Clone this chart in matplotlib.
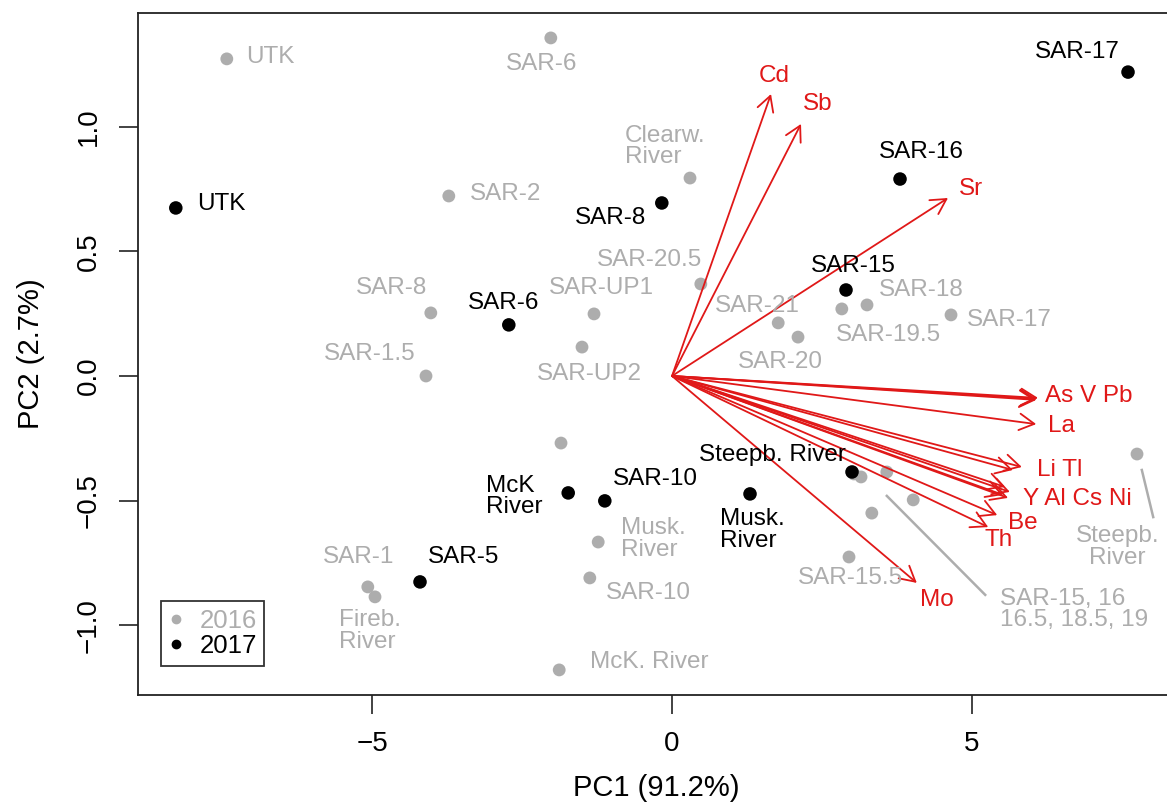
import matplotlib
matplotlib.use("Agg")
import matplotlib.pyplot as plt  # noqa: E402
from matplotlib.lines import Line2D  # noqa: E402

plt.rcParams["font.family"] = ["Liberation Sans", "DejaVu Sans"]

GRAY = "#ADADAD"
RED = "#E01818"

# 2016 sample scores (PC1, PC2)
s16_x = [-7.42, -2.02, 0.30, -3.72, -4.02, -1.30, 0.48, -1.50, -4.10, 1.77,
         2.10, 2.83, 3.25, 4.65, -1.85, -1.23, -1.37, -1.88, -5.07, -4.95,
         3.03, 3.15, 3.58, 4.02, 3.33, 2.95, 7.75]
s16_y = [1.272, 1.356, 0.794, 0.722, 0.253, 0.249, 0.369, 0.116, 0.0, 0.213,
         0.156, 0.269, 0.285, 0.245, -0.269, -0.666, -0.810, -1.179, -0.846, -0.886,
         -0.393, -0.405, -0.385, -0.497, -0.550, -0.726, -0.313]

# 2017 sample scores
s17_x = [-8.27, 7.60, 3.80, -0.17, 2.90, -2.72, -1.73, -1.12, 1.30, 3.00, -4.20]
s17_y = [0.674, 1.219, 0.790, 0.694, 0.345, 0.205, -0.469, -0.501, -0.473, -0.385, -0.826]

# labels: text, x, y, horizontal alignment
lab16 = [
    ("UTK", -7.10, 1.280, "left"),
    ("SAR-6", -2.18, 1.251, "center"),
    ("Clearw.\nRiver", -0.78, 0.922, "left"),
    ("SAR-2", -3.37, 0.730, "left"),
    ("SAR-8", -4.68, 0.353, "center"),
    ("SAR-UP1", -1.17, 0.353, "center"),
    ("SAR-20.5", -0.38, 0.465, "center"),
    ("SAR-1.5", -5.03, 0.088, "center"),
    ("SAR-UP2", -1.38, 0.008, "center"),
    ("SAR-21", 1.42, 0.281, "center"),
    ("SAR-20", 1.80, 0.056, "center"),
    ("SAR-18", 3.45, 0.345, "left"),
    ("SAR-19.5", 3.60, 0.164, "center"),
    ("SAR-17", 4.92, 0.225, "left"),
    ("Musk.\nRiver", -0.85, -0.654, "left"),
    ("SAR-10", -0.40, -0.870, "center"),
    ("McK. River", -0.38, -1.147, "center"),
    ("SAR-1", -5.23, -0.726, "center"),
    ("Fireb.\nRiver", -5.55, -1.023, "left"),
    ("SAR-15.5", 2.97, -0.810, "center"),
    ("Steepb.\nRiver", 7.42, -0.686, "center"),
    ("SAR-15, 16\n16.5, 18.5, 19", 5.47, -0.935, "left"),
]
lab17 = [
    ("UTK", -7.92, 0.690, "left"),
    ("SAR-17", 6.75, 1.300, "center"),
    ("SAR-16", 4.15, 0.899, "center"),
    ("SAR-8", -1.02, 0.634, "center"),
    ("SAR-15", 3.03, 0.441, "center"),
    ("SAR-6", -2.80, 0.293, "center"),
    ("McK\nRiver", -3.10, -0.485, "left"),
    ("SAR-10", -0.27, -0.413, "center"),
    ("Steepb. River", 1.67, -0.317, "center"),
    ("Musk.\nRiver", 0.80, -0.618, "left"),
    ("SAR-5", -3.48, -0.726, "center"),
]

# leader lines for crowded 2016 labels
leaders = [((3.58, 5.22), (-0.481, -0.878)),
           ((7.83, 8.02), (-0.377, -0.566))]

# variable loadings (arrow tips)
var_names = ["Cd", "Sb", "Sr", "As", "V", "Pb", "La", "Li", "Tl",
             "Y", "Al", "Cs", "Ni", "Be", "Th", "Mo"]
var_x = [1.65, 2.15, 4.60, 6.10, 6.08, 6.07, 6.07, 5.83, 5.68,
         5.55, 5.63, 5.52, 5.60, 5.42, 5.27, 4.08]
var_y = [1.131, 1.011, 0.714, -0.088, -0.092, -0.096, -0.193, -0.365, -0.377,
         -0.445, -0.465, -0.477, -0.489, -0.558, -0.606, -0.830]
var_lab = [
    ("Cd", 1.70, 1.203, "center"),
    ("Sb", 2.43, 1.091, "center"),
    ("Sr", 4.98, 0.750, "center"),
    ("As V Pb", 6.22, -0.080, "left"),
    ("La", 6.27, -0.200, "left"),
    ("Li Tl", 6.08, -0.377, "left"),
    ("Y Al Cs Ni", 5.85, -0.493, "left"),
    ("Be", 5.60, -0.590, "left"),
    ("Th", 5.20, -0.658, "left"),
    ("Mo", 4.42, -0.898, "center"),
]

fig = plt.figure(figsize=(11.67, 8.10), dpi=100)
ax = fig.add_axes([138 / 1167, 1 - 695 / 810, 1037 / 1167, 682 / 810])

ax.scatter(s16_x, s16_y, s=85, color=GRAY, edgecolors="none", zorder=2)
ax.scatter(s17_x, s17_y, s=95, color="black", edgecolors="none", zorder=3)

for xs, ys in leaders:
    ax.plot(xs, ys, color=GRAY, lw=1.8, zorder=2)

for name, x, y in zip(var_names, var_x, var_y):
    ax.annotate("", xy=(x, y), xytext=(0, 0),
                arrowprops=dict(arrowstyle="->,head_length=0.6,head_width=0.33",
                                mutation_scale=18, color=RED, lw=1.3,
                                shrinkA=0, shrinkB=0), zorder=4)

txt = dict(fontsize=17.5, va="center", linespacing=0.95, zorder=5)
for t, x, y, ha in lab16:
    ax.text(x, y, t, color=GRAY, ha=ha, **txt)
for t, x, y, ha in lab17:
    ax.text(x, y, t, color="black", ha=ha, **txt)
for t, x, y, ha in var_lab:
    ax.text(x, y, t, color=RED, ha=ha, **txt)

ax.set_xlim(-8.9, 8.383)
ax.set_ylim(-1.2796, 1.456)
ax.set_xticks([-5, 0, 5])
ax.set_yticks([-1.0, -0.5, 0.0, 0.5, 1.0])
ax.set_yticklabels(["\u22121.0", "\u22120.5", "0.0", "0.5", "1.0"],
                   rotation=90, va="center")
ax.tick_params(axis="both", length=14, width=1.2, labelsize=20, color="#222222")
ax.tick_params(axis="x", pad=12)
ax.tick_params(axis="y", pad=12)
for sp in ax.spines.values():
    sp.set_linewidth(1.3)
    sp.set_color("#222222")

ax.set_xlabel("PC1 (91.2%)", fontsize=21, labelpad=12)
ax.set_ylabel("PC2 (2.7%)", fontsize=21, labelpad=22)

handles = [Line2D([], [], ls="none", marker="o", ms=6, color=GRAY),
           Line2D([], [], ls="none", marker="o", ms=6, color="black")]
leg = ax.legend(handles, ["2016", "2017"], loc="lower left",
                bbox_to_anchor=(0.022, 0.0425), fontsize=18.5, frameon=True,
                fancybox=False, edgecolor="black", borderpad=0.3,
                labelspacing=0.05, handlelength=0.6, handletextpad=0.6,
                borderaxespad=0)
leg.get_frame().set_linewidth(1.3)
leg.get_texts()[0].set_color(GRAY)

fig.savefig("out.png", dpi=100)
